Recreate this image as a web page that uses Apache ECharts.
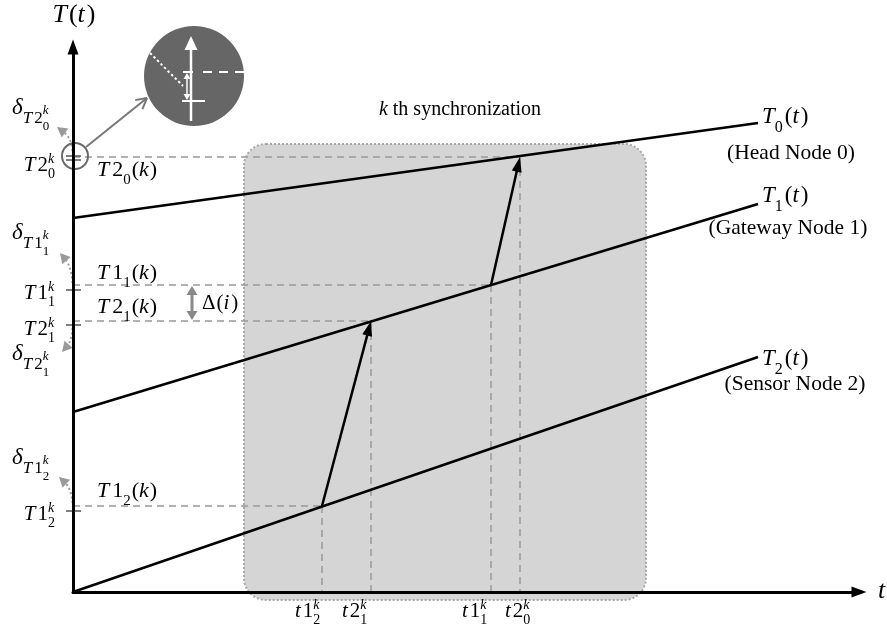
<!DOCTYPE html>
<html>
<head>
<meta charset="utf-8">
<script src="https://cdn.jsdelivr.net/npm/echarts@6/dist/echarts.min.js"></script>
<style>
  html, body { margin: 0; padding: 0; background: #fff; }
  #main { width: 887px; height: 639px; }
</style>
</head>
<body>
<div id="main"></div>
<script>
// Local clocks T_i(t): reading at t = 0 and at the end of the drawn span
const clockIds = ['0', '1', '2'];
const clockNames = ['(Head Node 0)', '(Gateway Node 1)', '(Sensor Node 2)'];
const clockSpan = [0, 685];
const clockStart = [374, 180, 0];
const clockEnd = [469, 388, 235];

// k-th synchronization events: [message, node] tags, instants on t, clock readings
const eventTags = [['1', '2'], ['2', '1'], ['1', '1'], ['2', '0']];
const eventTimes = [249, 298, 418, 447];
const eventValues = [86, 271, 307, 435];
// messages as [send event, receive event]
const messages = [[0, 1], [2, 3]];
// extent of the synchronization round
const roundT = [171, 573];
const roundV = [-8, 448];

const SERIF = '"Liberation Serif", "DejaVu Serif", serif';
const measureCtx = document.createElement('canvas').getContext('2d');

// size factor and vertical shift (in units of the base size) for each script level
const LEVELS = {
  b: [1, 0], sub: [0.68, 0.46], sup: [0.68, -0.27],
  ds: [0.76, 0.45], dss: [0.56, 0.8], dsp: [0.56, 0.1]
};
function tok(s, lv, it, stack, gap) {
  return { s: s, lv: lv, it: !!it, stack: !!stack, gap: gap || 0 };
}
// lays out a short formula as a row of text pieces
function mathText(tokens, size, x, y, align, color) {
  let cx = 0, sx = 0, sw = 0;
  const pieces = [];
  tokens.forEach(function (t) {
    const fs = Math.round(size * LEVELS[t.lv][0]);
    const dy = size * LEVELS[t.lv][1];
    measureCtx.font = (t.it ? 'italic ' : '') + fs + 'px ' + SERIF;
    const w = measureCtx.measureText(t.s).width;
    let px;
    if (t.stack) { px = sx; sw = Math.max(sw, w); cx = sx + sw; }
    else { px = cx + t.gap; sx = px; sw = w; cx = px + w; }
    pieces.push({ s: t.s, fs: fs, dy: dy, px: px, it: t.it });
  });
  const x0 = align === 'right' ? x - cx : align === 'center' ? x - cx / 2 : x;
  return pieces.map(function (o) {
    return {
      type: 'text', x: x0 + o.px, y: y + o.dy,
      style: {
        text: o.s, fontSize: o.fs, fontFamily: SERIF,
        fontStyle: o.it ? 'italic' : 'normal', fill: color || '#000',
        align: 'left', verticalAlign: 'middle'
      }
    };
  });
}
function plainText(s, size, x, y, align, italic) {
  return {
    type: 'text', x: x, y: y,
    style: { text: s, fontSize: size, fontFamily: SERIF, fontStyle: italic ? 'italic' : 'normal',
      fill: '#000', align: align, verticalAlign: 'middle' }
  };
}
function arrowHead(tip, from, len, half, fill) {
  const dx = tip[0] - from[0], dy = tip[1] - from[1];
  const d = Math.hypot(dx, dy) || 1;
  const ux = dx / d, uy = dy / d;
  const bx = tip[0] - ux * len, by = tip[1] - uy * len;
  return { type: 'polygon', shape: { points: [tip, [bx - uy * half, by + ux * half], [bx + uy * half, by - ux * half]] },
    style: { fill: fill } };
}

const F = 21;
const DASH = { stroke: '#999', lineWidth: 1.5, lineDash: [7, 5] };
const GREY = '#9a9a9a';

// label placement around each event (pixels)
const valueLabelDy = 8;
const estLabelDy = [-15, -14, -12, 13];
const deltaLabelDy = [-48, 33, -52, -49];
const timeLabelDx = [-27, -29, -29, -15];
const tickDy = [[5], [4], [5], [-1, 3]];
const curveStartDy = [-3, 7, -2, -6];
const curveTip = [[-14, -29], [-11, 31], [-13, -32], [-16, -30]];

function renderRound(params, api) {
  const a = api.coord([api.value(0), api.value(1)]);
  const b = api.coord([api.value(2), api.value(3)]);
  return {
    type: 'rect',
    shape: { x: a[0], y: b[1], width: b[0] - a[0], height: a[1] - b[1], r: 22 },
    style: { fill: '#d5d5d5', stroke: '#a8a8a8', lineWidth: 2, lineDash: [2, 2] }
  };
}

function renderGuide(params, api) {
  const t = api.value(0), v = api.value(1);
  const p = api.coord([t, v]);
  const ax = api.coord([0, v]);
  const bt = api.coord([t, 0]);
  return {
    type: 'group',
    children: [
      { type: 'line', shape: { x1: ax[0], y1: p[1], x2: p[0], y2: p[1] }, style: DASH },
      { type: 'line', shape: { x1: p[0], y1: p[1], x2: p[0], y2: bt[1] }, style: DASH }
    ]
  };
}

function renderMessage(params, api) {
  const s = api.coord([api.value(0), api.value(1)]);
  const r = api.coord([api.value(2), api.value(3)]);
  const d = Math.hypot(r[0] - s[0], r[1] - s[1]);
  const e = [r[0] - (r[0] - s[0]) / d * 12, r[1] - (r[1] - s[1]) / d * 12];
  return {
    type: 'group',
    children: [
      { type: 'line', shape: { x1: s[0], y1: s[1], x2: e[0], y2: e[1] }, style: { stroke: '#000', lineWidth: 2.5 } },
      arrowHead(r, s, 15, 5, '#000')
    ]
  };
}

function renderNotes(params, api) {
  const ch = [];
  const origin = api.coord([0, 0]);
  // per-event annotations
  eventTags.forEach(function (tag, i) {
    const a = tag[0], b = tag[1];
    const ax = api.coord([0, eventValues[i]]);
    const bt = api.coord([eventTimes[i], 0]);
    // reading ticks on the T axis
    tickDy[i].forEach(function (dy) {
      ch.push({ type: 'line', shape: { x1: ax[0] - 7, y1: ax[1] + dy, x2: ax[0] + 8, y2: ax[1] + dy },
        style: { stroke: '#555', lineWidth: 1.5 } });
    });
    // dotted arrow towards the error term
    const S = [ax[0] - 0.5, ax[1] + curveStartDy[i]];
    const P = [ax[0] + curveTip[i][0], ax[1] + curveTip[i][1]];
    const C = [S[0] - 1, P[1] + 0.45 * (S[1] - P[1])];
    const dd = Math.hypot(P[0] - C[0], P[1] - C[1]);
    const E = [P[0] - (P[0] - C[0]) / dd * 8, P[1] - (P[1] - C[1]) / dd * 8];
    ch.push({ type: 'bezierCurve', shape: { x1: S[0], y1: S[1], x2: E[0], y2: E[1], cpx1: C[0], cpy1: C[1] },
      style: { stroke: GREY, lineWidth: 2, lineDash: [2, 2.5], fill: null } });
    ch.push(arrowHead(P, C, 10, 5.5, GREY));
    // labels
    ch.push.apply(ch, mathText([tok('T', 'b', 1), tok(a, 'b', 0, 0, 2), tok(b, 'sub'), tok('k', 'sup', 1, 1)],
      F, ax[0] - 18, ax[1] + valueLabelDy, 'right'));
    ch.push.apply(ch, mathText([tok('T', 'b', 1), tok(a, 'b', 0, 0, 3), tok(b, 'sub'), tok('(', 'b', 0, 0, 1),
      tok('k', 'b', 1), tok(')', 'b', 0, 0, 1)], 22, ax[0] + 24, ax[1] + estLabelDy[i], 'left'));
    ch.push.apply(ch, mathText([tok('δ', 'b', 1), tok('T', 'ds', 1), tok(a, 'ds', 0, 0, 2), tok(b, 'dss'),
      tok('k', 'dsp', 1, 1)], 23, ax[0] - 61, ax[1] + deltaLabelDy[i], 'left'));
    ch.push.apply(ch, mathText([tok('t', 'b', 1), tok(a, 'b', 0, 0, 2), tok(b, 'sub'), tok('k', 'sup', 1, 1)],
      F, bt[0] + timeLabelDx[i], bt[1] + 19, 'left'));
  });

  // offset between the two gateway readings
  const g1 = api.coord([119, eventValues[2]]);
  const g2 = api.coord([119, eventValues[1]]);
  ch.push({ type: 'line', shape: { x1: g1[0], y1: g1[1] + 8, x2: g2[0], y2: g2[1] - 8 }, style: { stroke: '#888', lineWidth: 3 } });
  ch.push(arrowHead([g1[0], g1[1] + 1], [g1[0], g1[1] + 10], 9, 5.5, '#888'));
  ch.push(arrowHead([g2[0], g2[1] - 1], [g2[0], g2[1] - 10], 9, 5.5, '#888'));
  ch.push.apply(ch, mathText([tok('Δ', 'b'), tok('(', 'b', 0, 0, 1), tok('i', 'b', 1), tok(')', 'b', 0, 0, 2)],
    F, g1[0] + 10, (g1[1] + g2[1]) / 2, 'left'));

  // magnified view of the head node readings
  const h = api.coord([0, eventValues[3]]);
  const sc = [h[0] + 2, h[1] - 1];
  ch.push({ type: 'circle', shape: { cx: sc[0], cy: sc[1], r: 13 }, style: { fill: null, stroke: '#6a6a6a', lineWidth: 2 } });
  const tip = [h[0] + 74, h[1] - 59];
  const st = [h[0] + 13, h[1] - 10];
  ch.push({ type: 'line', shape: { x1: st[0], y1: st[1], x2: tip[0], y2: tip[1] }, style: { stroke: '#777', lineWidth: 2 } });
  const ang = Math.atan2(st[1] - tip[1], st[0] - tip[0]);
  [0.5, -0.5].forEach(function (da) {
    ch.push({ type: 'line', shape: { x1: tip[0], y1: tip[1], x2: tip[0] + 12 * Math.cos(ang + da), y2: tip[1] + 12 * Math.sin(ang + da) },
      style: { stroke: '#777', lineWidth: 2 } });
  });
  const c = [h[0] + 121, h[1] - 81];
  const W = '#fff';
  ch.push({ type: 'circle', shape: { cx: c[0], cy: c[1], r: 50 }, style: { fill: '#666', stroke: null } });
  ch.push({ type: 'line', shape: { x1: c[0] - 44, y1: c[1] - 23, x2: c[0] - 11, y2: c[1] + 10 }, style: { stroke: W, lineWidth: 2, lineDash: [2.5, 2.5] } });
  ch.push({ type: 'line', shape: { x1: c[0] - 3, y1: c[1] - 27, x2: c[0] - 3, y2: c[1] + 45 }, style: { stroke: W, lineWidth: 2.5 } });
  ch.push(arrowHead([c[0] - 3, c[1] - 40], [c[0] - 3, c[1]], 14, 6.5, W));
  ch.push({ type: 'line', shape: { x1: c[0] + 9, y1: c[1] - 4, x2: c[0] + 50, y2: c[1] - 4 }, style: { stroke: W, lineWidth: 2, lineDash: [9, 7] } });
  ch.push({ type: 'line', shape: { x1: c[0] - 11, y1: c[1] - 4, x2: c[0] - 1, y2: c[1] - 4 }, style: { stroke: W, lineWidth: 2 } });
  ch.push({ type: 'line', shape: { x1: c[0] - 12, y1: c[1] + 25, x2: c[0] + 11, y2: c[1] + 25 }, style: { stroke: W, lineWidth: 2 } });
  ch.push({ type: 'line', shape: { x1: c[0] - 7, y1: c[1] + 1, x2: c[0] - 7, y2: c[1] + 20 }, style: { stroke: W, lineWidth: 1.5 } });
  ch.push(arrowHead([c[0] - 7, c[1] - 3], [c[0] - 7, c[1] + 5], 6, 3.5, W));
  ch.push(arrowHead([c[0] - 7, c[1] + 24], [c[0] - 7, c[1] + 16], 6, 3.5, W));

  // clock names at the right end of each line
  const clockLabelDy = [-6, -8, 2];
  const nameDx = [33, 30, 37];
  const nameDy = [30, 24, 27];
  clockIds.forEach(function (id, i) {
    const e = api.coord([clockSpan[1], clockEnd[i]]);
    ch.push.apply(ch, mathText([tok('T', 'b', 1), tok(id, 'sub'), tok('(', 'b', 0, 0, 2), tok('t', 'b', 1), tok(')', 'b', 0, 0, 2)],
      23, e[0] + 4, e[1] + clockLabelDy[i], 'left'));
    ch.push(plainText(clockNames[i], 21.5, e[0] + nameDx[i], e[1] + nameDy[i], 'center', false));
  });

  // title of the synchronization round and axis names
  const rt = api.coord([(roundT[0] + roundT[1]) / 2, roundV[1]]);
  ch.push.apply(ch, mathText([tok('k', 'b', 1), tok(' th synchronization', 'b')], 20, rt[0] + 15, rt[1] - 34, 'center'));
  const top = api.coord([0, 545]);
  ch.push.apply(ch, mathText([tok('T', 'b', 1), tok('(', 'b', 0, 0, 2), tok('t', 'b', 1), tok(')', 'b', 0, 0, 2)],
    26, top[0] + 1, top[1] - 32, 'center'));
  const right = api.coord([786, 0]);
  ch.push(plainText('t', 26, right[0] + 19, origin[1] - 1, 'left', true));
  return { type: 'group', children: ch };
}

const axisLine = {
  show: true, onZero: false,
  symbol: ['none', 'triangle'], symbolSize: [11, 15],
  lineStyle: { color: '#000', width: 3 }
};

const chart = echarts.init(document.getElementById('main'), null, { renderer: 'canvas' });
chart.setOption({
  animation: false,
  backgroundColor: '#fff',
  grid: { left: 73, right: 28, top: 47, bottom: 47 },
  xAxis: { type: 'value', min: 0, max: 786, z: 10, axisLine: axisLine, axisTick: { show: false },
    axisLabel: { show: false }, splitLine: { show: false } },
  yAxis: { type: 'value', min: 0, max: 545, z: 10, axisLine: axisLine, axisTick: { show: false },
    axisLabel: { show: false }, splitLine: { show: false } },
  series: [
    { type: 'custom', name: 'round', z: 1, silent: true, renderItem: renderRound,
      data: [[roundT[0], roundV[0], roundT[1], roundV[1]]] },
    { type: 'custom', name: 'guides', z: 2, silent: true, renderItem: renderGuide,
      data: eventTimes.map(function (t, i) { return [t, eventValues[i]]; }) },
    ...clockIds.map(function (id, i) {
      return { type: 'line', name: 'T' + id, z: 3, silent: true, showSymbol: false,
        lineStyle: { color: '#000', width: 2.5 },
        data: [[clockSpan[0], clockStart[i]], [clockSpan[1], clockEnd[i]]] };
    }),
    { type: 'custom', name: 'messages', z: 4, silent: true, renderItem: renderMessage,
      data: messages.map(function (m) {
        return [eventTimes[m[0]], eventValues[m[0]], eventTimes[m[1]], eventValues[m[1]]];
      }) },
    { type: 'custom', name: 'notes', z: 5, silent: true, renderItem: renderNotes, data: [[0, 0]] }
  ]
});
</script>
</body>
</html>
